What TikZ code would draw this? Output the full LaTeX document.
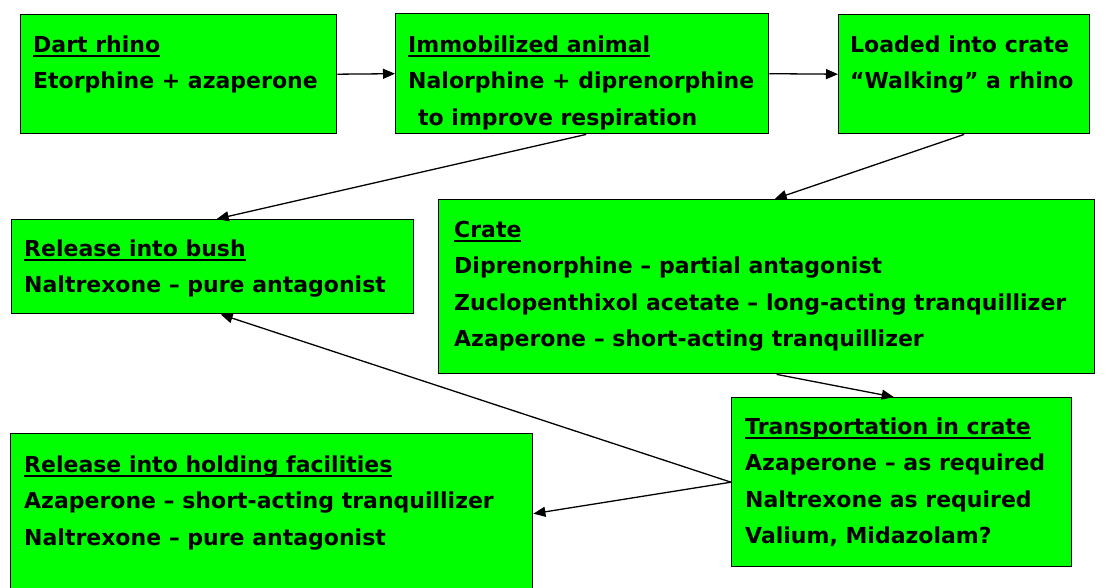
\documentclass[tikz,border=0pt]{standalone}
\usepackage{fontspec}
\setmainfont{DejaVu Sans}
\usetikzlibrary{arrows.meta}
\definecolor{boxgreen}{HTML}{00FF00}
\newcommand\hd[1]{\setbox0\hbox{#1}\rlap{\rule[-5pt]{\wd0}{2pt}}\box0}
\newcommand\fl{\rule{0pt}{20pt}}
\tikzset{
  box/.style={draw=black, line width=1.4pt, fill=boxgreen, anchor=north west, inner sep=0pt},
  txt/.style={anchor=north west, inner sep=0pt, align=left, font=\fontsize{22}{36.5}\selectfont\bfseries},
  arr/.style={line width=1.3pt, -{Triangle[length=12pt,width=10pt]}}
}
\begin{document}
\begin{tikzpicture}[x=1pt,y=-1pt]
\useasboundingbox (0,0) rectangle (1106,588);
\clip (0,0) rectangle (1106,588);
% boxes
\node[box, minimum width=316pt, minimum height=119pt] (dart) at (20,14) {};
\node[box, minimum width=373pt, minimum height=120pt] (immob) at (395,13) {};
\node[box, minimum width=251pt, minimum height=119pt] (loaded) at (838,14) {};
\node[box, minimum width=402pt, minimum height=94pt] (bush) at (11,219) {};
\node[box, minimum width=656pt, minimum height=174pt] (crate) at (438,199) {};
\node[box, minimum width=340pt, minimum height=169pt] (trans) at (731,397) {};
\node[box, minimum width=522pt, minimum height=160pt] (hold) at (10,433) {};
% texts
\node[txt] (dart-t) at (33,32) {\fl\hd{Dart rhino}\\Etorphine + azaperone};
\node[txt] (immob-t) at (408,32) {\fl\hd{Immobilized animal}\\Nalorphine + diprenorphine\\\hspace*{10pt}to improve respiration};
\node[txt] (loaded-t) at (850,32) {\fl Loaded into crate\\“Walking” a rhino};
\node[txt] (bush-t) at (24,236) {\fl\hd{Release into bush}\\Naltrexone – pure antagonist};
\node[txt] (crate-t) at (454,217) {\fl\hd{Crate}\\Diprenorphine – partial antagonist\\Zuclopenthixol acetate – long-acting tranquillizer\\Azaperone – short-acting tranquillizer};
\node[txt] (trans-t) at (745,414) {\fl\hd{Transportation in crate}\\Azaperone – as required\\Naltrexone as required\\Valium, Midazolam?};
\node[txt] (hold-t) at (24,452) {\fl\hd{Release into holding facilities}\\Azaperone – short-acting tranquillizer\\Naltrexone – pure antagonist};
% connectors
\draw[arr] (dart.east) -- (immob.west);
\draw[arr] (immob.east) -- (loaded.west);
\draw[arr] ([xshift=4pt]immob.south) -- ([xshift=4pt]bush.north);
\draw[arr] (loaded.south) -- ([xshift=8pt]crate.north);
\draw[arr] ([xshift=10pt]crate.south) -- ([xshift=-8pt]trans.north);
\draw[arr] (trans.west) -- ([xshift=8pt]bush.south);
\draw[arr] (trans.west) -- (hold.east);
\end{tikzpicture}
\end{document}
